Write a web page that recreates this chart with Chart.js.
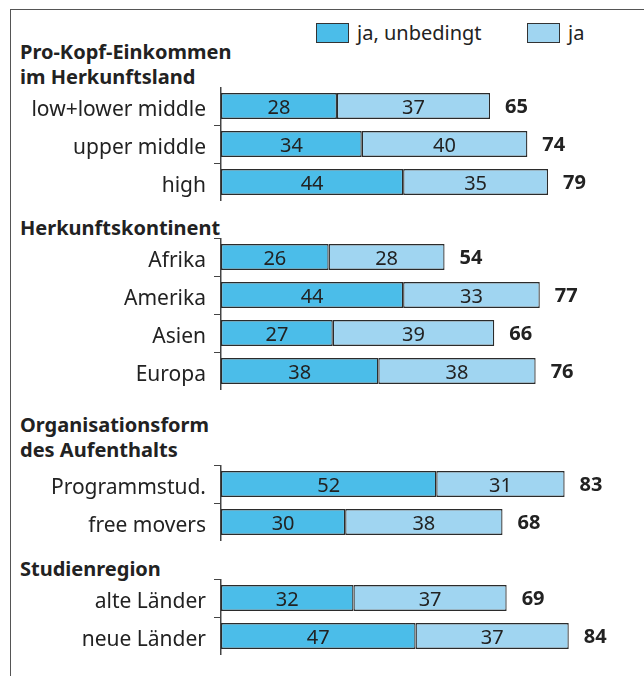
<!DOCTYPE html>
<html lang="de">
<head>
<meta charset="utf-8">
<title>Zufriedenheit nach Herkunft und Studienform</title>
<script src="https://cdn.jsdelivr.net/npm/chart.js@4.4.1/dist/chart.umd.min.js"></script>
<style>
  html, body { margin: 0; padding: 0; background: #fff; }
  body { width: 644px; height: 676px; position: relative; overflow: hidden; font-family: "Noto Sans", sans-serif; color: #222; }
  .frame { position: absolute; left: 10px; top: 9px; width: 660px; height: 700px; border-left: 1.5px solid #555; border-top: 1.5px solid #555; }
  .heading { position: absolute; left: 20px; font-weight: bold; font-size: 20px; line-height: 25px; color: #222; }
  .box { position: absolute; top: 23px; width: 33px; height: 20px; border: 1px solid #333; box-sizing: border-box; }
  .legtxt { position: absolute; top: 20px; font-size: 20px; line-height: 26px; color: #222; }
  .group { position: absolute; left: 0; width: 635px; }
</style>
</head>
<body>
<div class="frame"></div>

<div class="box" style="left:316px; background:#4bbde9"></div>
<div class="legtxt" style="left:357px">ja, unbedingt</div>
<div class="box" style="left:527px; background:#a0d5f1"></div>
<div class="legtxt" style="left:568px">ja</div>

<div class="heading" style="top:39px">Pro-Kopf-Einkommen<br>im Herkunftsland</div>
<div class="heading" style="top:215px">Herkunftskontinent</div>
<div class="heading" style="top:412px">Organisationsform<br>des Aufenthalts</div>
<div class="heading" style="top:556px">Studienregion</div>

<div class="group" style="top:87px; height:114px"><canvas id="einkommen"></canvas></div>
<div class="group" style="top:238px; height:152px"><canvas id="kontinent"></canvas></div>
<div class="group" style="top:465px; height:76px"><canvas id="organisation"></canvas></div>
<div class="group" style="top:579px; height:76px"><canvas id="region"></canvas></div>

<script>
// Anteile in Prozent: "ja, unbedingt" und "ja"
const einkommenLabels = ['low+lower middle', 'upper middle', 'high'];
const einkommenUnbedingt = [28, 34, 44];
const einkommenJa = [37, 40, 35];

const kontinentLabels = ['Afrika', 'Amerika', 'Asien', 'Europa'];
const kontinentUnbedingt = [26, 44, 27, 38];
const kontinentJa = [28, 33, 39, 38];

const organisationLabels = ['Programmstud.', 'free movers'];
const organisationUnbedingt = [52, 30];
const organisationJa = [31, 38];

const regionLabels = ['alte Länder', 'neue Länder'];
const regionUnbedingt = [32, 47];
const regionJa = [37, 37];

const FONT = '"Noto Sans", sans-serif';
const DARK = '#4bbde9';
const LIGHT = '#a0d5f1';

// Zahlen in die Balken und die Summe rechts daneben schreiben
const valueLabels = {
    id: 'valueLabels',
    afterDatasetsDraw(chart) {
        const ctx = chart.ctx;
        ctx.save();
        ctx.fillStyle = '#222';
        ctx.textBaseline = 'middle';
        chart.data.datasets.forEach((ds, i) => {
            const meta = chart.getDatasetMeta(i);
            meta.data.forEach((bar, j) => {
                const p = bar.getProps(['x', 'y', 'base'], true);
                ctx.font = '20px ' + FONT;
                ctx.textAlign = 'center';
                ctx.fillText(ds.data[j], (p.x + p.base) / 2, p.y + 2);
                if (i === chart.data.datasets.length - 1) {
                    const total = chart.data.datasets.reduce((s, d) => s + d.data[j], 0);
                    ctx.font = 'bold 20px ' + FONT;
                    ctx.textAlign = 'left';
                    ctx.fillText(total, p.x + 15, p.y + 1);
                }
            });
        });
        ctx.restore();
    }
};

function drawGroup(id, labels, unbedingt, ja, hideTopTick) {
    const ctx = document.getElementById(id).getContext('2d');
    new Chart(ctx, {
        type: 'bar',
        data: {
            labels: labels,
            datasets: [
                { label: 'ja, unbedingt', data: unbedingt, backgroundColor: DARK },
                { label: 'ja', data: ja, backgroundColor: LIGHT }
            ]
        },
        options: {
            indexAxis: 'y',
            responsive: true,
            maintainAspectRatio: false,
            animation: false,
            layout: { padding: 0 },
            datasets: {
                bar: {
                    borderColor: '#2b2b2b',
                    borderWidth: 1.3,
                    borderSkipped: false,
                    categoryPercentage: 1,
                    barPercentage: 0.68
                }
            },
            plugins: {
                legend: { display: false },
                tooltip: { enabled: false }
            },
            scales: {
                x: {
                    stacked: true,
                    display: false,
                    min: 0,
                    max: 100
                },
                y: {
                    stacked: true,
                    afterFit: (scale) => {
                        // feste Achsenbreite, keine Randabstände oben/unten
                        scale.width = 221;
                        scale.paddingTop = 0;
                        scale.paddingBottom = 0;
                    },
                    border: { display: true, color: '#444', width: 1.5 },
                    grid: {
                        offset: true,
                        drawOnChartArea: false,
                        drawTicks: true,
                        tickLength: 7,
                        color: (c) => (hideTopTick && c.index === 0) ? 'rgba(0,0,0,0)' : '#444'
                    },
                    ticks: {
                        color: '#222',
                        padding: 8,
                        labelOffset: 4,
                        font: { family: FONT, size: 21 }
                    }
                }
            }
        },
        plugins: [valueLabels]
    });
}

drawGroup('einkommen', einkommenLabels, einkommenUnbedingt, einkommenJa, true);
drawGroup('kontinent', kontinentLabels, kontinentUnbedingt, kontinentJa, false);
drawGroup('organisation', organisationLabels, organisationUnbedingt, organisationJa, false);
drawGroup('region', regionLabels, regionUnbedingt, regionJa, false);
</script>
</body>
</html>
